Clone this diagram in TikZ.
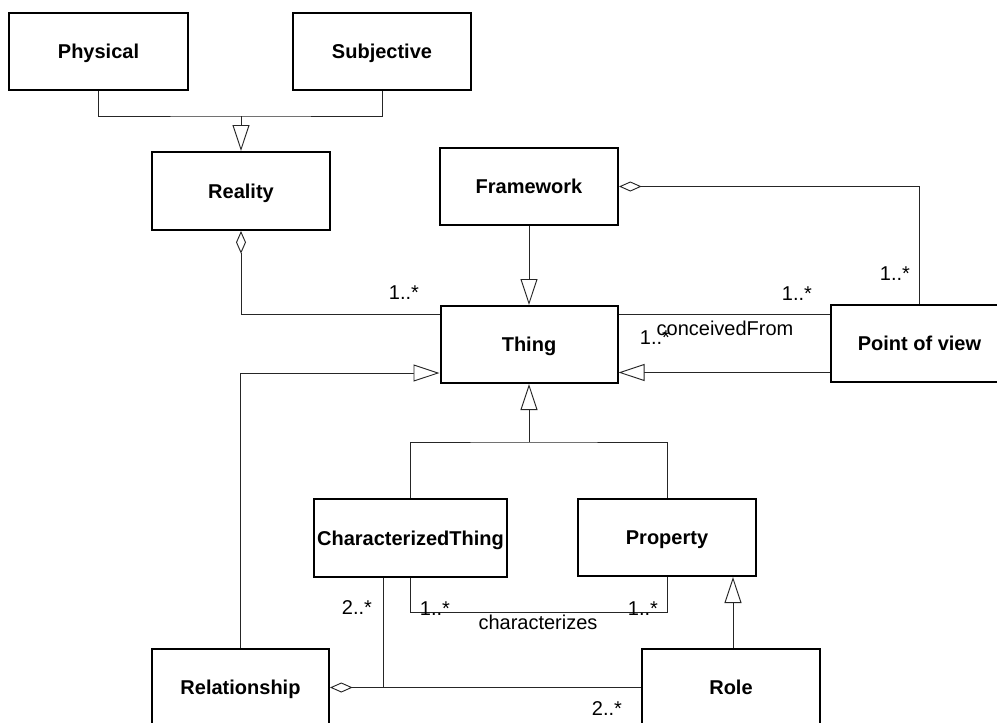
\documentclass[tikz,border=0pt]{standalone}
\usepackage{fontspec}
\setmainfont{Liberation Sans}
\usetikzlibrary{arrows.meta,calc}
\begin{document}
\begin{tikzpicture}[x=0.75pt,y=-0.75pt,
  classbox/.style={draw=black, line width=1.5pt, fill=white, inner sep=0pt,
    minimum width=133.5pt, minimum height=57.75pt,
    font=\fontsize{15}{18}\selectfont\bfseries,
    text height=10.7pt, text depth=0pt},
  link/.style={draw=black!85, line width=0.7pt},
  gen/.style={link, -{Triangle[length=19.5pt,width=12.75pt,fill=white]}},
  agg/.style={link, {Diamond[length=17pt,width=7.5pt,fill=white]}-},
  mult/.style={font=\fontsize{15}{18}\selectfont, inner sep=0pt, anchor=base}
]
\useasboundingbox (0,0) rectangle (997,722);
\clip (0,0) rectangle (997,722);

% classes
\node[classbox, minimum width=134.25pt] (Physical) at (98.5,51.5) {Physical};
\node[classbox] (Subjective) at (382,51.5) {Subjective};
\node[classbox, minimum height=58.5pt] (Reality) at (241,191) {Reality};
\node[classbox] (Framework) at (529,186.5) {Framework};
\node[classbox, minimum width=132.75pt] (Thing) at (529,344.5) {Thing};
\node[classbox, minimum width=132.75pt] (PoV) at (919.5,343.5) {Point of view};
\node[classbox, minimum width=144.75pt, minimum height=58.5pt] (CT) at (410.5,538) {CharacterizedThing};
\node[classbox] (Property) at (667,537.5) {Property};
\node[classbox, minimum width=132.75pt] (Relationship) at (240.5,687.5) {Relationship};
\node[classbox] (Role) at (731,687.5) {Role};

% generalization of Reality
\coordinate (jtop) at (241,116);
\draw[link] (Physical.south) |- (jtop) -| (Subjective.south);
\draw[gen] (jtop) -- (Reality.north);

% Reality aggregates Things
\coordinate (tw1) at ($(Thing.west)+(0,-30.5)$);
\draw[agg] (Reality.south) |- (tw1);

% Relationship is a Thing
\coordinate (tw2) at ($(Thing.west)+(0,28.5)$);
\draw[gen] (Relationship.north) |- (tw2);

% Framework is a Thing and aggregates points of view
\draw[gen] (Framework.south) -- (Thing.north);
\draw[agg] (Framework.east) -| (PoV.north);

% conceivedFrom association
\coordinate (te1) at ($(Thing.east)+(0,-30)$);
\draw[link] (te1) -- (te1 -| PoV.west);

% Point of view is a Thing
\coordinate (pw2) at ($(PoV.west)+(0,29)$);
\draw[gen] (pw2) -- (pw2 -| Thing.east);

% CharacterizedThing and Property are Things
\coordinate (jmid) at ($(Thing.south)+(0,58)$);
\draw[link] (CT.north) |- (jmid) -| (Property.north);
\draw[gen] (jmid) -- (Thing.south);

% characterizes association
\draw[link] (CT.south) -- ++(0,34) -| (Property.south);

% Relationship aggregates CharacterizedThings through Roles
\coordinate (cs2) at ($(CT.south)+(-27.5,0)$);
\draw[link] (cs2) -- (cs2 |- Relationship.east);
\draw[agg] (Relationship.east) -- (Role.west);

% Role is a Property
\coordinate (rn) at ($(Role.north)+(2,0)$);
\draw[gen] (rn) -- (rn |- Property.south);

% multiplicities and association names
\node[mult] (m1) at (404,299) {1..*};
\node[mult] (m2) at (895,280) {1..*};
\node[mult] (m3) at (797,300) {1..*};
\node[mult] (m4) at (655,344) {1..*};
\node[mult] (lcf) at (725,335) {conceivedFrom};
\node[mult] (m5) at (435,615) {1..*};
\node[mult] (m6) at (643,615) {1..*};
\node[mult] (lch) at (538,629) {characterizes};
\node[mult] (m7) at (357,614) {2..*};
\node[mult] (m8) at (607,715) {2..*};
\end{tikzpicture}
\end{document}
